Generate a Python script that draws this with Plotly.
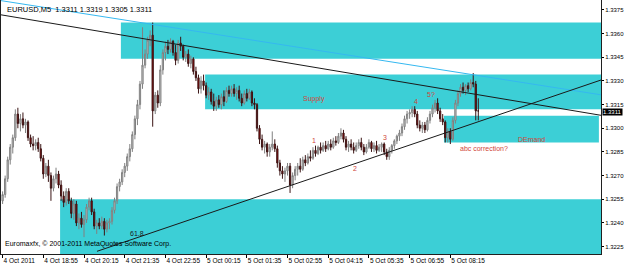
import plotly.graph_objects as go

# ---------------- data (EURUSD M5, 4 Oct 2011 17:35 -> 5 Oct 2011 09:10) ----------------
bar_index = list(range(188))

open_p = [
1.3254,1.3258,1.3268,1.3280,1.3288,1.3294,1.3309,1.3303,1.3306,1.3302,
1.3304,1.3294,1.3290,1.3289,1.3291,1.3287,1.3281,1.3271,1.3276,1.3270,
1.3262,1.3268,1.3271,1.3264,1.3257,1.3253,1.3260,1.3254,1.3246,1.3252,
1.3240,1.3243,1.3239,1.3242,1.3250,1.3254,1.3247,1.3238,1.3240,1.3238,
1.3241,1.3236,1.3240,1.3241,1.3248,1.3254,1.3263,1.3266,1.3272,1.3276,
1.3282,1.3287,1.3296,1.3306,1.3315,1.3328,1.3340,1.3347,1.3356,1.3359,
1.3311,1.3321,1.3316,1.3337,1.3348,1.3352,1.3350,1.3355,1.3348,1.3343,
1.3354,1.3352,1.3345,1.3347,1.3341,1.3344,1.3336,1.3332,1.3325,1.3330,
1.3327,1.3321,1.3323,1.3317,1.3314,1.3318,1.3315,1.3320,1.3317,1.3324,
1.3322,1.3325,1.3322,1.3324,1.3319,1.3316,1.3322,1.3319,1.3323,1.3316,
1.3315,1.3300,1.3293,1.3288,1.3290,1.3285,1.3288,1.3290,1.3287,1.3278,
1.3273,1.3271,1.3273,1.3276,1.3264,1.3270,1.3274,1.3276,1.3274,1.3280,
1.3278,1.3282,1.3281,1.3286,1.3284,1.3288,1.3286,1.3289,1.3287,1.3290,
1.3288,1.3292,1.3291,1.3295,1.3297,1.3293,1.3288,1.3290,1.3288,1.3286,
1.3289,1.3291,1.3288,1.3285,1.3288,1.3291,1.3287,1.3289,1.3286,1.3288,
1.3290,1.3285,1.3282,1.3286,1.3289,1.3292,1.3295,1.3297,1.3301,1.3306,
1.3309,1.3310,1.3312,1.3309,1.3302,1.3300,1.3302,1.3299,1.3305,1.3309,
1.3313,1.3316,1.3311,1.3306,1.3304,1.3294,1.3298,1.3293,1.3305,1.3316,
1.3322,1.3326,1.3324,1.3327,1.3325,1.3329,1.3328,1.3311]

high_p = [
1.3260,1.3270,1.3282,1.3290,1.3296,1.3312,1.3313,1.3309,1.3310,1.3306,
1.3305,1.3296,1.3295,1.3293,1.3294,1.3290,1.3283,1.3278,1.3280,1.3272,
1.3270,1.3275,1.3273,1.3267,1.3260,1.3262,1.3262,1.3256,1.3255,1.3254,
1.3246,1.3247,1.3245,1.3252,1.3256,1.3256,1.3249,1.3242,1.3243,1.3244,
1.3243,1.3242,1.3243,1.3250,1.3256,1.3265,1.3268,1.3274,1.3278,1.3284,
1.3290,1.3298,1.3308,1.3318,1.3330,1.3364,1.3350,1.3358,1.3362,1.3367,
1.3323,1.3324,1.3340,1.3350,1.3355,1.3356,1.3357,1.3356,1.3353,1.3356,
1.3358,1.3353,1.3349,1.3350,1.3346,1.3345,1.3339,1.3334,1.3333,1.3334,
1.3329,1.3326,1.3325,1.3322,1.3320,1.3321,1.3322,1.3324,1.3326,1.3327,
1.3327,1.3328,1.3326,1.3327,1.3322,1.3324,1.3325,1.3325,1.3324,1.3319,
1.3316,1.3302,1.3296,1.3292,1.3291,1.3290,1.3298,1.3293,1.3289,1.3280,
1.3276,1.3275,1.3278,1.3278,1.3272,1.3276,1.3278,1.3281,1.3282,1.3283,
1.3284,1.3286,1.3288,1.3289,1.3289,1.3291,1.3291,1.3292,1.3292,1.3293,
1.3294,1.3295,1.3297,1.3300,1.3299,1.3295,1.3292,1.3293,1.3291,1.3291,
1.3293,1.3294,1.3290,1.3290,1.3293,1.3292,1.3291,1.3292,1.3290,1.3291,
1.3291,1.3287,1.3288,1.3290,1.3293,1.3296,1.3299,1.3303,1.3308,1.3311,
1.3312,1.3314,1.3314,1.3311,1.3305,1.3304,1.3304,1.3307,1.3311,1.3315,
1.3318,1.3319,1.3313,1.3309,1.3305,1.3300,1.3300,1.3307,1.3318,1.3324,
1.3328,1.3329,1.3328,1.3329,1.3331,1.3335,1.3330,1.3319]

low_p = [
1.3252,1.3256,1.3266,1.3277,1.3284,1.3292,1.3300,1.3298,1.3300,1.3297,
1.3292,1.3288,1.3286,1.3286,1.3285,1.3279,1.3268,1.3269,1.3266,1.3254,
1.3260,1.3265,1.3262,1.3254,1.3250,1.3251,1.3252,1.3243,1.3242,1.3238,
1.3236,1.3237,1.3231,1.3240,1.3248,1.3245,1.3236,1.3233,1.3236,1.3236,
1.3232,1.3234,1.3236,1.3239,1.3246,1.3252,1.3260,1.3264,1.3269,1.3273,
1.3279,1.3285,1.3293,1.3302,1.3312,1.3325,1.3338,1.3344,1.3352,1.3301,
1.3309,1.3313,1.3314,1.3334,1.3343,1.3347,1.3348,1.3346,1.3340,1.3341,
1.3349,1.3343,1.3342,1.3339,1.3338,1.3334,1.3330,1.3322,1.3322,1.3324,
1.3319,1.3318,1.3315,1.3311,1.3311,1.3313,1.3312,1.3314,1.3316,1.3320,
1.3320,1.3320,1.3318,1.3317,1.3314,1.3315,1.3317,1.3318,1.3314,1.3312,
1.3298,1.3290,1.3286,1.3284,1.3282,1.3282,1.3286,1.3285,1.3275,1.3270,
1.3268,1.3266,1.3270,1.3259,1.3262,1.3267,1.3270,1.3272,1.3273,1.3276,
1.3277,1.3279,1.3280,1.3282,1.3283,1.3284,1.3285,1.3285,1.3286,1.3286,
1.3287,1.3289,1.3290,1.3293,1.3291,1.3286,1.3285,1.3286,1.3284,1.3285,
1.3287,1.3286,1.3283,1.3284,1.3287,1.3285,1.3285,1.3284,1.3285,1.3285,
1.3283,1.3280,1.3280,1.3284,1.3287,1.3290,1.3292,1.3295,1.3299,1.3303,
1.3306,1.3307,1.3307,1.3300,1.3298,1.3297,1.3297,1.3298,1.3303,1.3307,
1.3310,1.3309,1.3304,1.3302,1.3291,1.3291,1.3290,1.3292,1.3303,1.3314,
1.3320,1.3322,1.3321,1.3323,1.3324,1.3326,1.3305,1.3305]

close_p = [
1.3258,1.3268,1.3280,1.3288,1.3294,1.3309,1.3303,1.3306,1.3302,1.3304,
1.3294,1.3290,1.3289,1.3291,1.3287,1.3281,1.3271,1.3276,1.3270,1.3262,
1.3268,1.3271,1.3264,1.3257,1.3253,1.3260,1.3254,1.3246,1.3252,1.3240,
1.3243,1.3239,1.3242,1.3250,1.3254,1.3247,1.3238,1.3240,1.3238,1.3241,
1.3236,1.3240,1.3241,1.3248,1.3254,1.3263,1.3266,1.3272,1.3276,1.3282,
1.3287,1.3296,1.3306,1.3315,1.3328,1.3340,1.3347,1.3356,1.3359,1.3311,
1.3321,1.3316,1.3337,1.3348,1.3352,1.3350,1.3355,1.3348,1.3343,1.3354,
1.3352,1.3345,1.3347,1.3341,1.3344,1.3336,1.3332,1.3325,1.3330,1.3327,
1.3321,1.3323,1.3317,1.3314,1.3318,1.3315,1.3320,1.3317,1.3324,1.3322,
1.3325,1.3322,1.3324,1.3319,1.3316,1.3322,1.3319,1.3323,1.3316,1.3315,
1.3300,1.3293,1.3288,1.3290,1.3285,1.3288,1.3290,1.3287,1.3278,1.3273,
1.3271,1.3273,1.3276,1.3264,1.3270,1.3274,1.3276,1.3274,1.3280,1.3278,
1.3282,1.3281,1.3286,1.3284,1.3288,1.3286,1.3289,1.3287,1.3290,1.3288,
1.3292,1.3291,1.3295,1.3297,1.3293,1.3288,1.3290,1.3288,1.3286,1.3289,
1.3291,1.3288,1.3285,1.3288,1.3291,1.3287,1.3289,1.3286,1.3288,1.3290,
1.3285,1.3282,1.3286,1.3289,1.3292,1.3295,1.3297,1.3301,1.3306,1.3309,
1.3310,1.3312,1.3309,1.3302,1.3300,1.3302,1.3299,1.3305,1.3309,1.3313,
1.3316,1.3311,1.3306,1.3304,1.3294,1.3298,1.3293,1.3305,1.3316,1.3322,
1.3326,1.3324,1.3327,1.3325,1.3329,1.3328,1.3311,1.3311]

# time-axis labels and the bars they sit on
tick_labels = ["4 Oct 2011", "4 Oct 18:55", "4 Oct 20:15", "4 Oct 21:35", "4 Oct 22:55",
               "5 Oct 00:15", "5 Oct 01:35", "5 Oct 02:55", "5 Oct 04:15", "5 Oct 05:35",
               "5 Oct 06:55", "5 Oct 08:15"]
tick_bars = [0, 16, 32, 48, 64, 80, 96, 112, 128, 144, 160, 176]

price_ticks = [1.3225, 1.3240, 1.3255, 1.3270, 1.3285, 1.3300, 1.3315, 1.3330, 1.3345, 1.3360, 1.3375]

# supply / demand rectangles (start bar, end bar, low price, high price)
zone_start = [46.5, 79.6, 173.5, 22.6]
zone_end = [300, 300, 234.4, 300]
zone_low = [1.3344, 1.3312, 1.3291, 1.3200]
zone_high = [1.3367, 1.3334, 1.3308, 1.3255]

# trend lines (start bar, start price, end bar, end price)
tl_x0 = [-1.0, -1.0, 37.1]
tl_y0 = [1.3381, 1.3372, 1.3222]
tl_x1 = [236.0, 236.0, 236.0]
tl_y1 = [1.3321, 1.3308, 1.3331]
tl_color = ["#35b8f0", "#1a1a1a", "#1a1a1a"]

# chart labels
note_text = ["Supply", "1", "2", "3", "4", "5?", "abc correction?", "DEmand", "61.8"]
note_bar = [122.4, 122.4, 138.5, 150.3, 162.5, 168.4, 189.2, 208.1, 52.8]
note_price = [1.33186, 1.32920, 1.32742, 1.32939, 1.33167, 1.33211, 1.32869, 1.32926, 1.32336]
note_color = ["#d0463a"] * 8 + ["#1a1a1a"]

header = "EURUSD,M5  1.3311 1.3319 1.3305 1.3311"
copyright_txt = "Euromaxfx, © 2001-2011 MetaQuotes Software Corp."
last_price = close_p[-1]

FONT = "Liberation Sans, Arial, sans-serif"

fig = go.Figure()
fig.add_trace(go.Candlestick(
    x=bar_index, open=open_p, high=high_p, low=low_p, close=close_p,
    increasing=dict(line=dict(color="#808080", width=1), fillcolor="#cfcfcf"),
    decreasing=dict(line=dict(color="#3a1414", width=1), fillcolor="#a00000"),
    whiskerwidth=0, hoverinfo="skip", showlegend=False))

shapes = []
for x0, x1, lo, hi in zip(zone_start, zone_end, zone_low, zone_high):
    shapes.append(dict(type="rect", xref="x", yref="y", x0=x0, x1=x1, y0=lo, y1=hi,
                       fillcolor="#3ccfd6", line=dict(width=0), layer="below"))
for x0, y0, x1, y1, c in zip(tl_x0, tl_y0, tl_x1, tl_y1, tl_color):
    shapes.append(dict(type="line", xref="x", yref="y", x0=x0, y0=y0, x1=x1, y1=y1,
                       line=dict(color=c, width=1), layer="above"))

annotations = []
for t, b, p, c in zip(note_text, note_bar, note_price, note_color):
    annotations.append(dict(x=b, y=p, xref="x", yref="y", text=t, showarrow=False,
                            font=dict(family=FONT, size=7, color=c)))
annotations.append(dict(x=0.006, y=0.99, xref="paper", yref="paper", text=header,
                        showarrow=False, xanchor="left", yanchor="top",
                        font=dict(family=FONT, size=7.5, color="#000000")))
annotations.append(dict(x=0.004, y=0.015, xref="paper", yref="paper", text=copyright_txt,
                        showarrow=False, xanchor="left", yanchor="bottom",
                        font=dict(family=FONT, size=7, color="#000000")))
annotations.append(dict(x=1.0, y=last_price, xref="paper", yref="y", text=f"{last_price:.4f}",
                        showarrow=False, xanchor="left", yanchor="top", bgcolor="#000000",
                        borderpad=0, xshift=1, yshift=3,
                        font=dict(family=FONT, size=6, color="#ffffff")))

fig.update_layout(
    width=625, height=266,
    margin=dict(l=1, r=24, t=0, b=12),
    paper_bgcolor="#ffffff", plot_bgcolor="#ffffff",
    shapes=shapes, annotations=annotations,
    showlegend=False,
    xaxis=dict(range=[-0.63, 235.23], tickmode="array", tickvals=tick_bars, ticktext=tick_labels,
               ticks="outside", ticklen=3, tickcolor="#000000", tickangle=0, automargin=False,
               ticklabelposition="outside right",
               tickfont=dict(family=FONT, size=6.5, color="#000000"),
               showgrid=False, zeroline=False, showline=True, linecolor="#202020",
               linewidth=1, mirror=True, rangeslider=dict(visible=False), fixedrange=True),
    yaxis=dict(range=[1.32203, 1.33813], side="right", tickmode="array", tickvals=price_ticks,
               ticktext=[f"{v:.4f}" for v in price_ticks], automargin=False,
               ticks="outside", ticklen=2, tickcolor="#000000",
               tickfont=dict(family=FONT, size=6, color="#000000"),
               showgrid=False, zeroline=False, showline=True, linecolor="#202020",
               linewidth=1, mirror=True, fixedrange=True),
)

fig.write_html("out.html")
